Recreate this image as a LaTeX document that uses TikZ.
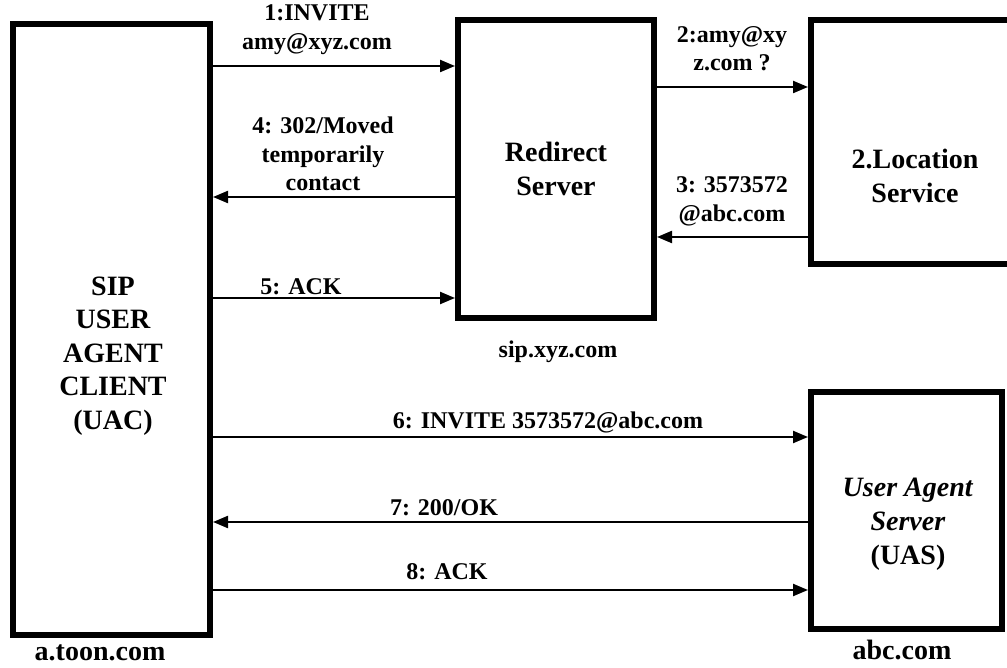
\documentclass[tikz,border=0pt]{standalone}
\usepackage{fontspec}
\setmainfont{Liberation Serif}
\usetikzlibrary{arrows.meta}
\begin{document}
\begin{tikzpicture}[x=1pt,y=-1pt,
  ent/.style={draw, line width=6pt, inner sep=0pt, rectangle},
  big/.style={font=\fontsize{28}{33.5}\selectfont\bfseries, align=center, inner sep=0pt},
  lbl/.style={font=\fontsize{24}{28.5}\selectfont\bfseries, align=center, inner sep=0pt},
  msg/.style={line width=2.2pt, -{Triangle[length=15pt,width=12pt]}}]
\useasboundingbox[fill=white] (0,0) rectangle (1007,668);

% entity boxes
\node[ent, minimum width=197pt, minimum height=611pt] (uac) at (111.5,329.5) {};
\node[ent, minimum width=196pt, minimum height=298pt, big] (rs) at (556,169) {Redirect\\Server};
\node[ent, minimum width=204pt, minimum height=244pt] (loc) at (913,142) {};
\node[ent, minimum width=191pt, minimum height=237pt] (uas) at (906.5,510.5) {};

% texts inside boxes
\node[big] (uactxt) at (113,356) {SIP\\USER\\AGENT\\CLIENT\\(UAC)};
\node[big] (loctxt) at (915,176) {2.Location\\Service};
\node[big, font=\fontsize{28}{34}\selectfont\bfseries] (uastxt) at (908,524) {\textit{User Agent}\\\textit{Server}\\(UAS)};

% host names
\node[big] (h1) at (100,653) {a.toon.com};
\node[lbl] (h2) at (558,352) {sip.xyz.com};
\node[big] (h3) at (902,650) {abc.com};

% message rows
\coordinate (y1) at (0,66);
\coordinate (y2) at (0,87);
\coordinate (y3) at (0,237);
\coordinate (y4) at (0,197);
\coordinate (y5) at (0,298);
\coordinate (y6) at (0,437);
\coordinate (y7) at (0,522);
\coordinate (y8) at (0,590);

\draw[msg] (uac.east |- y1) -- (rs.west |- y1);
\draw[msg] (rs.east |- y2) -- (loc.west |- y2);
\draw[msg] (loc.west |- y3) -- (rs.east |- y3);
\draw[msg] (rs.west |- y4) -- (uac.east |- y4);
\draw[msg] (uac.east |- y5) -- (rs.west |- y5);
\draw[msg] (uac.east |- y6) -- (uas.west |- y6);
\draw[msg] (uas.west |- y7) -- (uac.east |- y7);
\draw[msg] (uac.east |- y8) -- (uas.west |- y8);

% message labels
\node[lbl] (l1) at (317,29.5) {1:INVITE\\amy@xyz.com};
\node[lbl] (l2) at (732,48.5) {2:amy@xy\\z.com ?};
\node[lbl] (l3) at (732,201.5) {3: 3573572\\@abc.com};
\node[lbl] (l4) at (323,154) {4: 302/Moved\\temporarily\\contact};
\node[lbl] (l5) at (301,287) {5: ACK};
\node[lbl] (l6) at (548,422) {6: INVITE 3573572@abc.com};
\node[lbl] (l7) at (444,508) {7: 200/OK};
\node[lbl] (l8) at (447,572) {8: ACK};
\end{tikzpicture}
\end{document}
